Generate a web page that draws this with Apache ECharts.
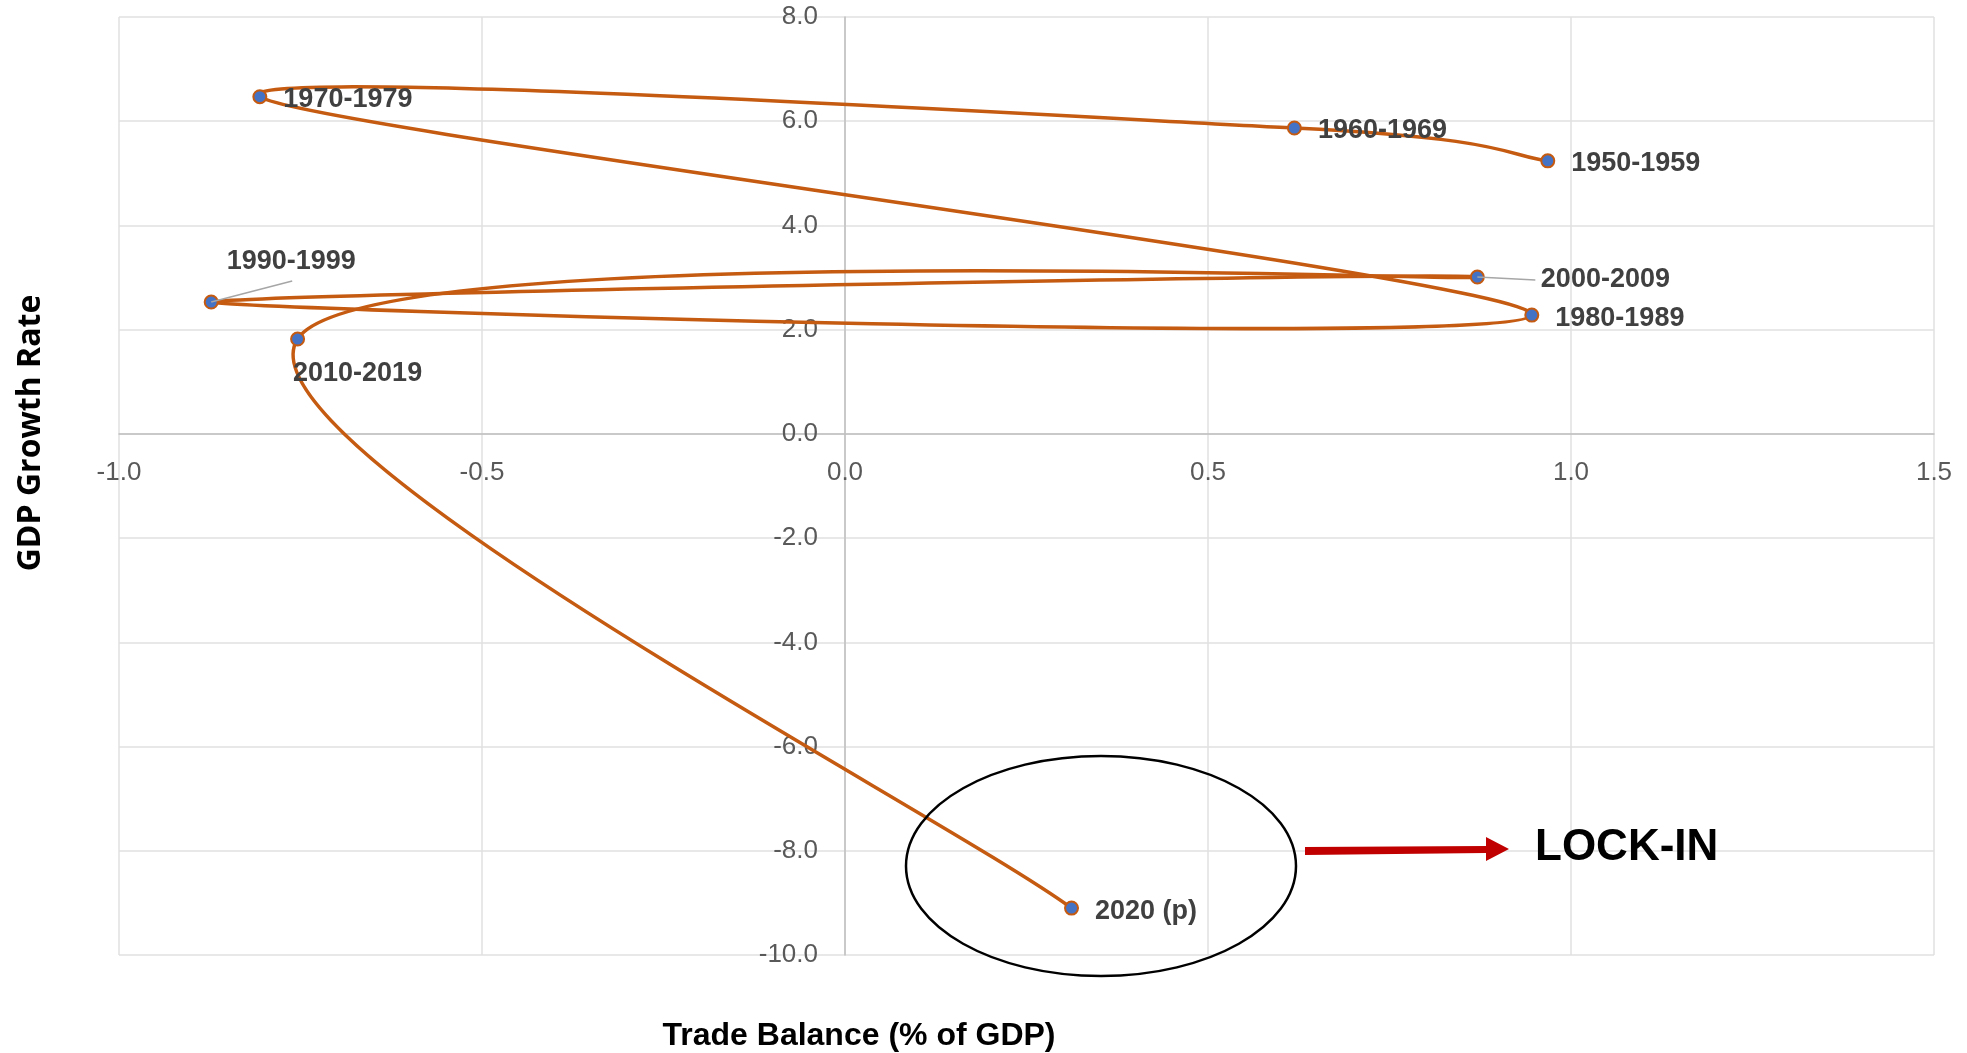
<!DOCTYPE html>
<html>
<head>
    <meta charset="utf-8">
    <script src="https://cdn.jsdelivr.net/npm/echarts@6/dist/echarts.min.js"></script>
    <style>
        html, body {
            margin: 0;
            height: 100%;
            background: #fff;
        }
    </style>
</head>
<body>
    <div id="main" style="width: 1967px;height: 1053px;"></div>

    <script>
        // decade averages
        var periods = ['1950-1959', '1960-1969', '1970-1979', '1980-1989', '1990-1999', '2000-2009', '2010-2019', '2020 (p)'];
        var tradeBalance = [0.968, 0.619, -0.806, 0.946, -0.873, 0.871, -0.754, 0.312];
        var gdpGrowth = [5.24, 5.87, 6.47, 2.28, 2.53, 3.01, 1.82, -9.10];

        var xMin = -1.0, xMax = 1.5, xStep = 0.5;
        var yMin = -10.0, yMax = 8.0, yStep = 2.0;

        var W = 1967, H = 1053;
        var grid = { left: 119, right: 33, top: 17, bottom: 98 };
        var gridW = W - grid.left - grid.right;
        var gridH = H - grid.top - grid.bottom;

        var labelFont = '"Liberation Sans", Arial, sans-serif';
        var orange = '#c55a11';

        // label placement tweaks (dx, dy after the default position)
        var labelPos = {
            '1990-1999': { position: 'top', distance: 20 },
            '2010-2019': { position: 'bottom', distance: 14 }
        };
        var labelShift = {
            '1990-1999': [80, 0],
            '2000-2009': [40, 3],
            '2010-2019': [60, 0]
        };
        // grey leader lines, pixel offset of the far end from the point
        var leaderEnd = {
            '1990-1999': [81, -21],
            '2000-2009': [58, 3]
        };

        var points = periods.map(function(p, i) {
            var lp = labelPos[p] || { position: 'right', distance: 16 };
            return {
                name: p,
                value: [tradeBalance[i], gdpGrowth[i]],
                label: {
                    position: lp.position,
                    distance: lp.distance
                }
            };
        });

        // Excel style smoothed line: cubic pieces, control points from neighbours
        var tension = 1 / 6;
        function renderCurve(params, api) {
            var i = params.dataIndex;
            var n = periods.length;
            if (i >= n - 1) return null;
            function pt(k) {
                k = Math.max(0, Math.min(n - 1, k));
                return api.coord([tradeBalance[k], gdpGrowth[k]]);
            }
            var p0 = pt(i - 1), p1 = pt(i), p2 = pt(i + 1), p3 = pt(i + 2);
            return {
                type: 'bezierCurve',
                shape: {
                    x1: p1[0], y1: p1[1],
                    x2: p2[0], y2: p2[1],
                    cpx1: p1[0] + (p2[0] - p0[0]) * tension,
                    cpy1: p1[1] + (p2[1] - p0[1]) * tension,
                    cpx2: p2[0] - (p3[0] - p1[0]) * tension,
                    cpy2: p2[1] - (p3[1] - p1[1]) * tension
                },
                style: {
                    fill: 'none',
                    stroke: orange,
                    lineWidth: 3.5
                }
            };
        }

        function renderLeader(params, api) {
            var end = leaderEnd[periods[params.dataIndex]];
            if (!end) return null;
            var p = api.coord([api.value(0), api.value(1)]);
            return {
                type: 'line',
                shape: { x1: p[0], y1: p[1], x2: p[0] + end[0], y2: p[1] + end[1] },
                style: { stroke: '#a6a6a6', lineWidth: 1.5 }
            };
        }

        var myChart = echarts.init(document.getElementById('main'));

        var option = {
            animation: false,
            grid: grid,
            xAxis: {
                type: 'value',
                min: xMin,
                max: xMax,
                interval: xStep,
                position: 'bottom',
                // axis crosses at GDP = 0
                offset: -gridH * (0 - yMin) / (yMax - yMin),
                axisLine: {
                    onZero: false,
                    lineStyle: { color: '#bfbfbf', width: 1.5 }
                },
                axisTick: { show: false },
                axisLabel: {
                    margin: 26,
                    color: '#595959',
                    fontSize: 26,
                    fontFamily: labelFont,
                    formatter: function(v) { return v.toFixed(1); }
                },
                splitLine: {
                    lineStyle: { color: '#e0e0e0', width: 1.5 }
                }
            },
            yAxis: {
                type: 'value',
                min: yMin,
                max: yMax,
                interval: yStep,
                position: 'left',
                // axis crosses at trade balance = 0
                offset: -gridW * (0 - xMin) / (xMax - xMin),
                axisLine: {
                    onZero: false,
                    lineStyle: { color: '#bfbfbf', width: 1.5 }
                },
                axisTick: { show: false },
                axisLabel: {
                    margin: 27,
                    color: '#595959',
                    fontSize: 26,
                    fontFamily: labelFont,
                    formatter: function(v) { return v.toFixed(1); }
                },
                splitLine: {
                    lineStyle: { color: '#e0e0e0', width: 1.5 }
                }
            },
            series: [{
                type: 'custom',
                renderItem: renderCurve,
                data: points.map(function(d) { return d.value; }),
                clip: false,
                silent: true,
                z: 2
            }, {
                type: 'scatter',
                data: points,
                symbol: 'circle',
                symbolSize: 13,
                itemStyle: {
                    color: '#4472c4',
                    borderColor: orange,
                    borderWidth: 2,
                    opacity: 1
                },
                label: {
                    show: true,
                    formatter: '{b}',
                    color: '#404040',
                    fontWeight: 'bold',
                    fontSize: 27,
                    fontFamily: labelFont
                },
                labelLayout: function(params) {
                    var s = labelShift[periods[params.dataIndex]] || [0, 3];
                    return { dx: s[0], dy: s[1] };
                },
                z: 3
            }, {
                type: 'custom',
                renderItem: renderLeader,
                data: points.map(function(d) { return d.value; }),
                clip: false,
                silent: true,
                z: 4
            }],
            graphic: [
                {
                    type: 'text',
                    x: 31,
                    y: 433,
                    rotation: Math.PI / 2,
                    style: {
                        text: 'GDP Growth Rate',
                        font: 'bold 32px "Open Sans", sans-serif',
                        fill: '#000',
                        align: 'center',
                        verticalAlign: 'middle'
                    }
                },
                {
                    type: 'text',
                    x: 859,
                    y: 1036,
                    style: {
                        text: 'Trade Balance (% of GDP)',
                        font: 'bold 32px "Liberation Sans", Arial, sans-serif',
                        fill: '#000',
                        align: 'center',
                        verticalAlign: 'middle'
                    }
                },
                {
                    type: 'ellipse',
                    shape: { cx: 1101, cy: 866, rx: 195, ry: 110 },
                    style: { fill: 'none', stroke: '#000', lineWidth: 2.5 },
                    z: 10
                },
                {
                    type: 'polygon',
                    shape: {
                        points: [[1305, 847], [1486, 846], [1486, 837], [1509, 849], [1486, 861], [1486, 853], [1305, 855]]
                    },
                    style: { fill: '#c00000' },
                    z: 10
                },
                {
                    type: 'text',
                    x: 1535,
                    y: 848,
                    style: {
                        text: 'LOCK-IN',
                        font: 'bold 44px "Liberation Sans", Arial, sans-serif',
                        fill: '#000',
                        align: 'left',
                        verticalAlign: 'middle'
                    },
                    z: 10
                }
            ]
        };

        myChart.setOption(option);
    </script>
</body>
</html>
